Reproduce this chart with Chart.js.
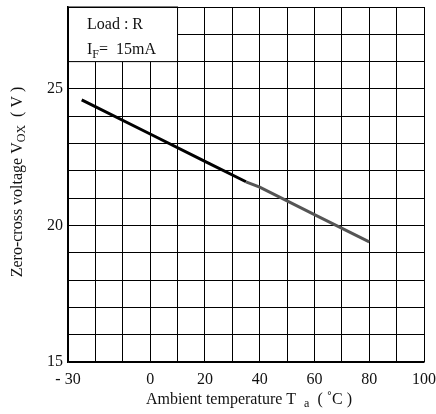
<!DOCTYPE html>
<html>
<head>
<meta charset="utf-8">
<script src="https://cdn.jsdelivr.net/npm/chart.js@4"></script>
<style>
  html, body { margin: 0; padding: 0; background: #fff; }
  #wrap { width: 436px; height: 414px; }
</style>
</head>
<body>
<div id="wrap"><canvas id="vox"></canvas></div>
<script>
// data
const temps = [-25, 0, 20, 35, 40, 60, 80];
const vox = [24.6, 23.35, 22.35, 21.6, 21.4, 20.4, 19.4];
const xTicksShown = [-30, 0, 20, 40, 60, 80, 100];
const yTicksShown = [15, 20, 25];
const noteLines = ["Load : R", ["I", "F", "=  15mA"]];

const SERIF = "'Liberation Serif', 'DejaVu Serif', serif";

// draws text with a subscript part, returns end x
function subText(ctx, x, y, main, sub, rest, size) {
    ctx.font = size + "px " + SERIF;
    ctx.fillText(main, x, y);
    x += ctx.measureText(main).width;
    ctx.font = Math.round(size * 0.72) + "px " + SERIF;
    ctx.fillText(sub, x, y + size * 0.25);
    x += ctx.measureText(sub).width;
    ctx.font = size + "px " + SERIF;
    ctx.fillText(rest, x, y);
    return x + ctx.measureText(rest).width;
}

function subWidth(ctx, main, sub, rest, size) {
    ctx.font = size + "px " + SERIF;
    let w = ctx.measureText(main).width + ctx.measureText(rest).width;
    ctx.font = Math.round(size * 0.72) + "px " + SERIF;
    return w + ctx.measureText(sub).width;
}

const extras = {
    id: 'extras',
    beforeDatasetsDraw(chart) {
        const ctx = chart.ctx;
        const xs = chart.scales.x, ys = chart.scales.y;
        // note box in upper-left corner
        const l = xs.getPixelForValue(-30), r = xs.getPixelForValue(10);
        const t = ys.getPixelForValue(28), b = ys.getPixelForValue(26);
        ctx.save();
        ctx.fillStyle = '#fff';
        ctx.fillRect(l + 1, t + 1, r - l - 1, b - t - 1);
        ctx.strokeStyle = '#000';
        ctx.lineWidth = 1;
        ctx.strokeRect(l, t, r - l, b - t);
        ctx.fillStyle = '#111';
        ctx.textBaseline = 'alphabetic';
        ctx.font = "16px " + SERIF;
        ctx.fillText(noteLines[0], l + 19, t + 22);
        subText(ctx, l + 19, t + 47, noteLines[1][0], noteLines[1][1], noteLines[1][2], 16);
        ctx.restore();
    },
    afterDraw(chart) {
        const ctx = chart.ctx;
        ctx.save();
        ctx.fillStyle = '#111';
        ctx.textBaseline = 'middle';
        // x title
        const xw = subWidth(ctx, "Ambient temperature T  ", "a", "  ( ˚C )", 16);
        subText(ctx, 249 - xw / 2, 400, "Ambient temperature T  ", "a", "  ( ˚C )", 16);
        // y title
        ctx.translate(18, 182);
        ctx.rotate(-Math.PI / 2);
        const yw = subWidth(ctx, "Zero-cross voltage V", "OX", "  ( V )", 16);
        subText(ctx, -yw / 2, 0, "Zero-cross voltage V", "OX", "  ( V )", 16);
        ctx.restore();
    }
};

new Chart(document.getElementById('vox'), {
    type: 'line',
    data: {
        datasets: [{
            data: temps.map((t, i) => ({ x: t, y: vox[i] })),
            borderWidth: 3,
            pointRadius: 0,
            tension: 0,
            fill: false,
            borderColor: '#000',
            segment: {
                borderColor: c => c.p0.parsed.x >= 35 ? '#555' : '#000'
            }
        }]
    },
    options: {
        responsive: true,
        maintainAspectRatio: false,
        animation: false,
        layout: { padding: { top: 7, right: 12, left: 0, bottom: 0 } },
        plugins: { legend: { display: false }, tooltip: { enabled: false } },
        scales: {
            x: {
                type: 'linear',
                min: -30, max: 100,
                afterFit: s => { s.height = 52; s.paddingLeft = 0; s.paddingRight = 0; },
                ticks: {
                    stepSize: 10,
                    autoSkip: false,
                    maxRotation: 0,
                    padding: 8,
                    color: '#111',
                    font: { family: SERIF, size: 16 },
                    callback: v => xTicksShown.includes(v) ? (v < 0 ? '- ' + Math.abs(v) : String(v)) : ''
                },
                grid: { color: '#000', lineWidth: 1, drawTicks: false },
                border: { color: '#000', width: 1.5 }
            },
            y: {
                min: 15, max: 28,
                afterFit: s => { s.width = 68; s.paddingTop = 0; s.paddingBottom = 0; },
                ticks: {
                    stepSize: 1,
                    autoSkip: false,
                    padding: 5,
                    color: '#111',
                    font: { family: SERIF, size: 16 },
                    callback: v => yTicksShown.includes(v) ? String(v) : ''
                },
                grid: { color: '#000', lineWidth: 1, drawTicks: false },
                border: { color: '#000', width: 1.5 }
            }
        }
    },
    plugins: [extras]
});
</script>
</body>
</html>
